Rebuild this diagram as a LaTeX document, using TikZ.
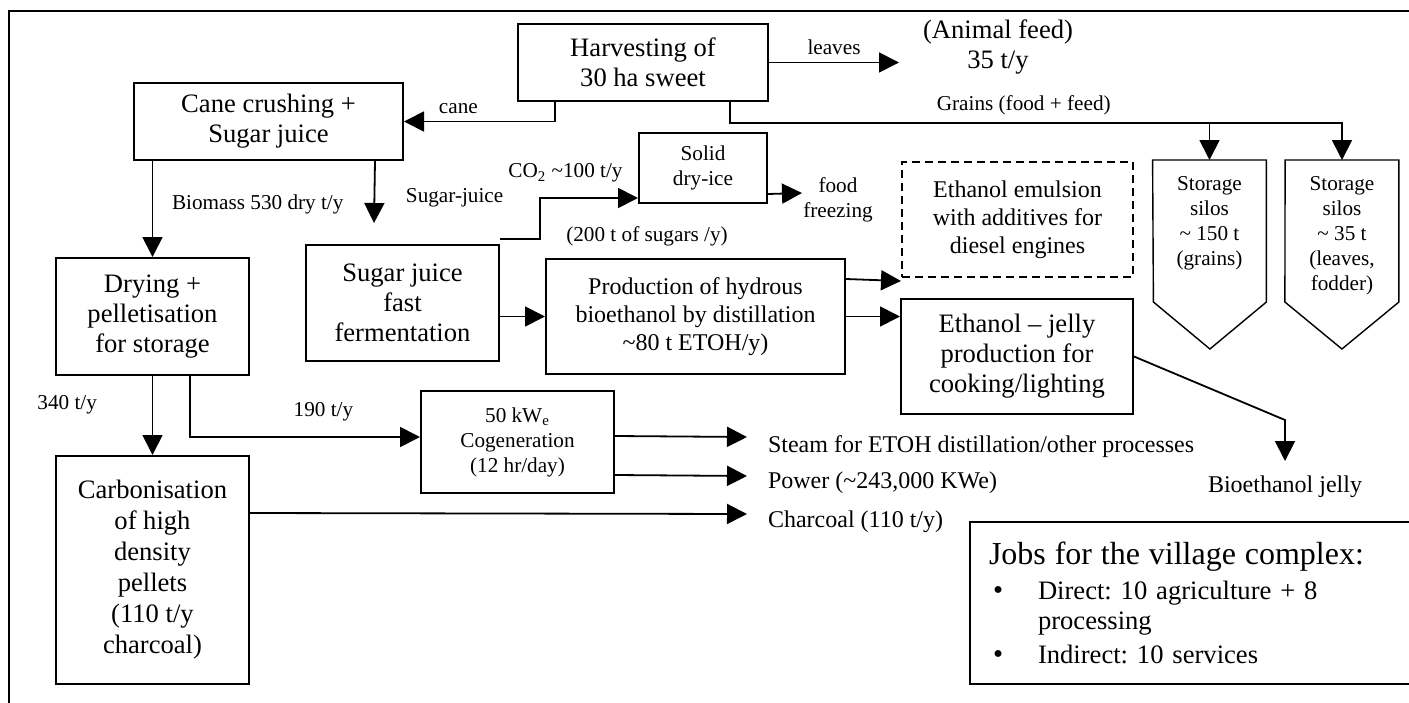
\documentclass[tikz,border=0pt]{standalone}
\usepackage{fontspec}
\setmainfont{Liberation Serif}
\usepackage{tikz}
\usetikzlibrary{arrows.meta, positioning, calc}

\begin{document}
\begin{tikzpicture}[
    x=0.5pt, y=-0.5pt,
    every node/.style={font=\fontsize{10.6}{12.5}\selectfont, align=center},
    bigtxt/.style={font=\fontsize{13.3}{15}\selectfont},
    midtxt/.style={font=\fontsize{12}{14}\selectfont},
    box/.style={rectangle, draw, line width=1pt, inner sep=2pt},
    silo/.style={anchor=north, minimum width=56.5pt, inner xsep=0pt, inner ysep=8pt},
    siloline/.style={line width=0.7pt},
    arrow/.style={-{Triangle[length=10pt, width=10pt]}, line width=0.9pt}
]
\useasboundingbox (0,0) rectangle (1409,702);
\clip (0,0) rectangle (1409,702);

% Frame
\draw[line width=1pt] (9,720) -- (9,11) -- (1420,11);

% Harvest and crushing
\node[box, bigtxt, minimum width=125pt, minimum height=38.5pt] (harvest) at (643,62.5) {Harvesting of\\30 ha sweet};
\node[bigtxt] (feed) at (998,47.5) {(Animal feed)\\35 t/y};
\node[box, bigtxt, minimum width=134.5pt, minimum height=38.5pt] (crush) at (268.5,121.5) {Cane crushing +\\Sugar juice};

% Storage silos
\node[silo] (silo1) at (1209.5,160) {Storage\\silos\\\textasciitilde{} 150 t\\(grains)};
\node[silo] (silo2) at (1342,160) {Storage\\silos\\\textasciitilde{} 35 t\\(leaves,\\fodder)};
\draw[siloline] (silo1.north west) -- (silo1.north east) -- ++(0,142) -- ++(-56.5,47) -- ++(-56.5,-47) -- cycle;
\draw[siloline] (silo2.north west) -- (silo2.north east) -- ++(0,142) -- ++(-57,47) -- ++(-57,-47) -- cycle;

% Processing
\node[box, bigtxt, minimum width=96.5pt, minimum height=58.5pt] (dry) at (152.5,316.5) {Drying +\\pelletisation\\for storage};
\node[box, bigtxt, minimum width=96.5pt, minimum height=58pt] (ferment) at (402.5,303) {Sugar juice\\fast\\fermentation};
\node[box, minimum width=64pt, minimum height=35pt] (dryice) at (703,168) {Solid\\dry-ice};
\node (freeze) at (838,200) {food\\freezing};
\node (sugars) at (647,236) {(200 t of sugars /y)};
\node[box, midtxt, minimum width=149.5pt, minimum height=57.5pt] (distil) at (695.5,316.5) {Production of hydrous\\bioethanol by distillation\\\textasciitilde80 t ETOH/y)};
\node[box, midtxt, dash pattern=on 4pt off 2.5pt, minimum width=115.5pt, minimum height=57.5pt] (emulsion) at (1017.5,219.5) {Ethanol emulsion\\with additives for\\diesel engines};
\node[box, bigtxt, minimum width=116pt, minimum height=57.5pt] (jelly) at (1017,356.5) {Ethanol -- jelly\\production for\\cooking/lighting};
\node[midtxt] (bioj) at (1285,487) {Bioethanol jelly};
\node[box, minimum width=96.5pt, minimum height=51pt] (cogen) at (517.5,442) {50 kW\textsubscript{e}\\Cogeneration\\(12 hr/day)};
\node[box, font=\fontsize{13.3}{15.5}\selectfont, minimum width=96.5pt, minimum height=114pt] (carb) at (152.5,570) {Carbonisation\\of high\\density\\pellets\\(110 t/y\\charcoal)};

% Products
\node[midtxt, anchor=west] (steam) at (761,447) {Steam for ETOH distillation/other processes};
\node[midtxt, anchor=west] (power) at (761,483) {Power (\textasciitilde243,000 KWe)};
\node[midtxt, anchor=west] (charcoal) at (761,522) {Charcoal (110 t/y)};

% Jobs
\node[box, bigtxt, minimum height=81pt, text width=206pt, inner xsep=9.5pt, align=left] (jobs) at (1195,603)
    {\frenchspacing{\fontsize{16}{19}\selectfont Jobs for the village complex:}\\[2.5pt]
     \hspace*{2pt}\makebox[22.5pt][l]{\Large\textbullet}Direct: 10 agriculture + 8\\
     \hspace*{24.5pt}processing\\[2pt]
     \hspace*{2pt}\makebox[22.5pt][l]{\Large\textbullet}Indirect: 10 services};

% Free ends
\coordinate (leavesend) at (899,62.5);
\coordinate (juiceend) at (374,223);
\coordinate (freezeend) at (802,193);
\coordinate (jellybend) at (1285,420);
\coordinate (jellyend) at (1285,461);
\coordinate (steamend) at (747,437);
\coordinate (powerend) at (747,476);
\coordinate (charend) at (747,514);

% Arrows
\draw[arrow] (harvest.east) -- node[above] {leaves} (leavesend);
\draw[arrow] ($(harvest.south west)+(38,0)$) |- node[pos=0.82, above] {cane} (crush.east);
\draw[arrow] ($(harvest.south east)+(-39,0)$) -- ++(0,21) coordinate (bus) -| node[pos=0.24, above] {Grains (food + feed)} (silo2.north);
\draw[arrow] (silo1.north |- bus) -- (silo1.north);
\draw[arrow] (dry.north |- crush.south) -- node[pos=0.45, right=6pt] {Biomass 530 dry t/y} (dry.north);
\draw[arrow] ($(crush.south east)+(-29,0)$) -- node[pos=0.6, right=12pt] {Sugar-juice} (juiceend);
\draw[arrow] ($(ferment.north east)+(0,-5)$) -- ++(40,0) |- node[pos=0.63, above=4pt] {CO\textsubscript{2} \textasciitilde100 t/y} ($(dryice.south west)+(0,-6)$);
\draw[arrow] ($(dryice.south east)+(0,-10)$) -- (freezeend);
\draw[arrow] (ferment.east |- distil.west) -- (distil.west);
\draw[arrow] ($(distil.north east)+(0,21)$) -- ($(emulsion.south west)+(0,3)$);
\draw[arrow] (distil.east) -- (distil.east -| jelly.west);
\draw[arrow] (jelly.east) -- (jellybend) -- (jellyend);
\draw[arrow] (dry.south) -- node[pos=0.36, left=24pt] {340 t/y} (carb.north);
\draw[arrow] ($(dry.south west)+(135,0)$) |- node[pos=0.79, above=4pt] {190 t/y} ($(cogen.west)+(0,-5)$);
\draw[arrow] ($(cogen.north east)+(0,46)$) -- (steamend);
\draw[arrow] ($(cogen.north east)+(0,85)$) -- (powerend);
\draw[arrow] ($(carb.north east)+(0,58)$) -- (charend);

\end{tikzpicture}
\end{document}
